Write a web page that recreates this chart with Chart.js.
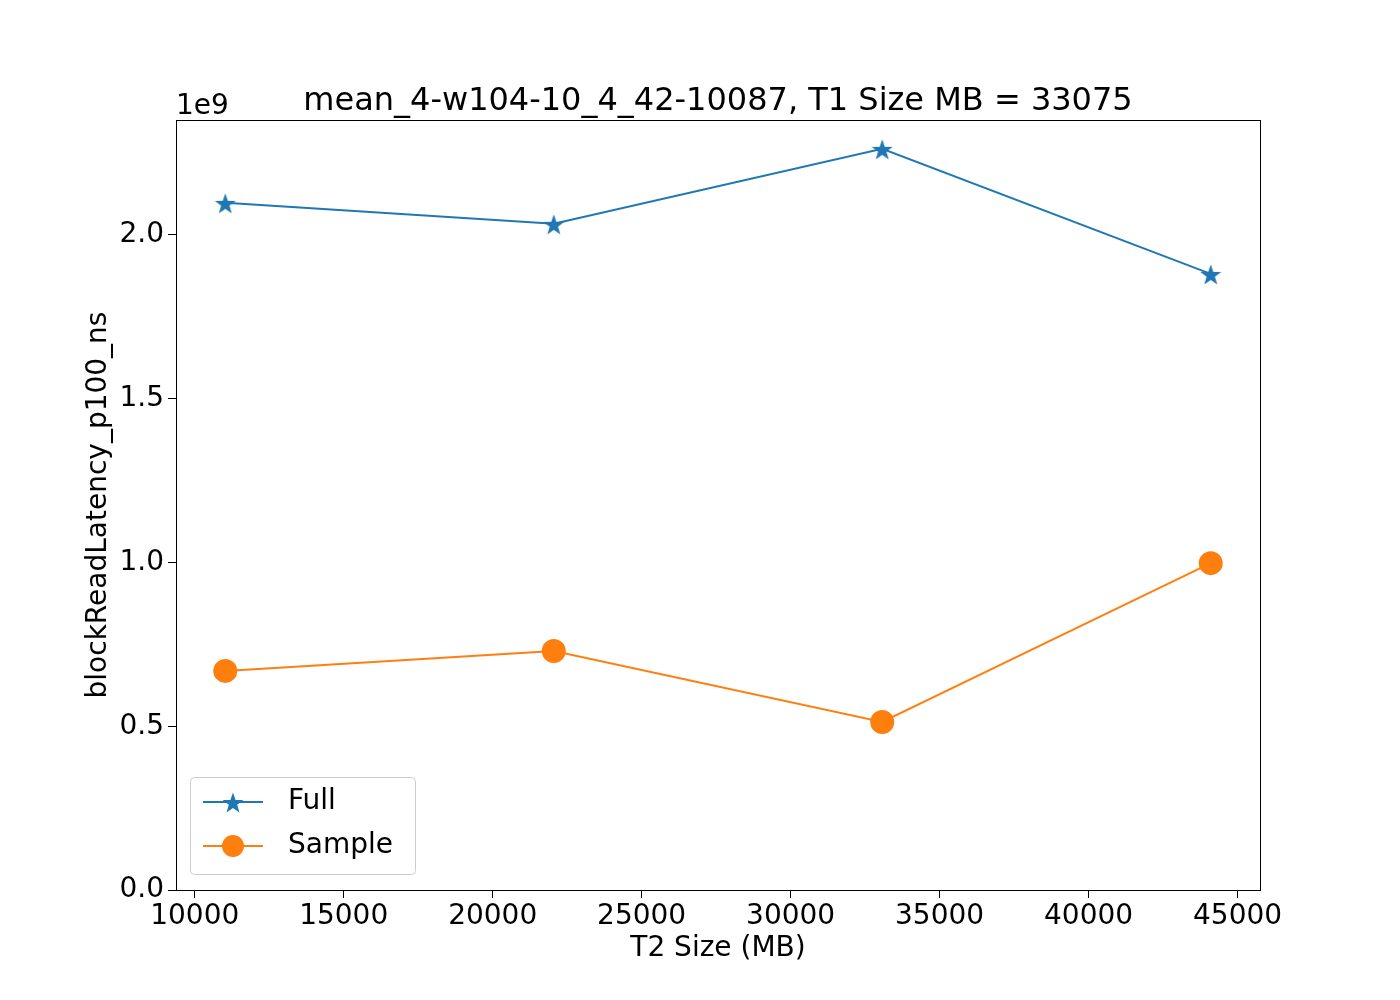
<!DOCTYPE html>
<html>
<head>
<meta charset="utf-8">
<script src="https://cdn.jsdelivr.net/npm/chart.js@4.4.1/dist/chart.umd.min.js"></script>
<style>
  body { margin: 0; background: #fff; }
  #wrap { width: 1400px; height: 1000px; }
</style>
</head>
<body>
<div id="wrap"><canvas id="c" width="1400" height="1000"></canvas></div>
<script>
const sizes = [11025, 22050, 33075, 44100];
const fullValues = [2.098, 2.034, 2.263, 1.881];
const sampleValues = [0.669, 0.730, 0.513, 0.998];
const yTicks = [0, 0.5, 1.0, 1.5, 2.0];
const chartTitle = "mean_4-w104-10_4_42-10087, T1 Size MB = 33075";
const blue = "#1f77b4";
const orange = "#ff7f0e";
const font = "DejaVu Sans";

function makeStar(r, color) {
    const c = document.createElement("canvas");
    c.width = r * 2 + 2;
    c.height = r * 2 + 2;
    const g = c.getContext("2d");
    g.fillStyle = color;
    g.beginPath();
    for (let i = 0; i < 10; i++) {
        const rr = i % 2 == 0 ? r : r * 0.4;
        const a = -Math.PI / 2 + i * Math.PI / 5;
        g.lineTo(c.width / 2 + rr * Math.cos(a), c.height / 2 + 1.5 + rr * Math.sin(a));
    }
    g.closePath();
    g.fill();
    return c;
}
const starImg = makeStar(11, blue);

const extras = {
    id: "extras",
    afterDraw(chart) {
        const ctx = chart.ctx;
        const a = chart.chartArea;
        ctx.save();
        ctx.strokeStyle = "#000";
        ctx.lineWidth = 1;
        ctx.strokeRect(a.left + 0.5, a.top + 0.5, a.right - a.left, a.bottom - a.top);
        ctx.fillStyle = "#000";
        ctx.textAlign = "center";
        ctx.textBaseline = "alphabetic";
        ctx.font = "32px " + font;
        ctx.fillText(chartTitle, 718, 110);
        ctx.font = "28px " + font;
        ctx.fillText("T2 Size (MB)", 718, 956);
        ctx.textAlign = "left";
        ctx.fillText("1e9", 176, 114);
        ctx.save();
        ctx.translate(106, 505);
        ctx.rotate(-Math.PI / 2);
        ctx.textAlign = "center";
        ctx.fillText("blockReadLatency_p100_ns", 0, 0);
        ctx.restore();
        // legend
        ctx.fillStyle = "rgba(255,255,255,0.8)";
        ctx.strokeStyle = "#ccc";
        ctx.beginPath();
        ctx.roundRect(190.5, 777.5, 225, 97, 4);
        ctx.fill();
        ctx.stroke();
        const rows = [["Full", blue, 802], ["Sample", orange, 846]];
        rows.forEach(([label, col, y]) => {
            ctx.strokeStyle = col;
            ctx.lineWidth = 2;
            ctx.beginPath();
            ctx.moveTo(203, y);
            ctx.lineTo(263, y);
            ctx.stroke();
            if (label == "Full") {
                ctx.drawImage(starImg, 233 - starImg.width / 2, y - starImg.height / 2);
            } else {
                ctx.fillStyle = col;
                ctx.beginPath();
                ctx.arc(233, y, 11, 0, Math.PI * 2);
                ctx.fill();
            }
            ctx.fillStyle = "#000";
            ctx.textBaseline = "middle";
            ctx.fillText(label, 288, y);
        });
        ctx.restore();
    }
};

new Chart(document.getElementById("c"), {
    type: "line",
    data: {
        datasets: [{
            label: "Full",
            data: sizes.map((x, i) => ({x: x, y: fullValues[i]})),
            borderColor: blue,
            backgroundColor: blue,
            borderWidth: 2,
            pointStyle: starImg,
            pointRadius: 11,
        }, {
            label: "Sample",
            data: sizes.map((x, i) => ({x: x, y: sampleValues[i]})),
            borderColor: orange,
            backgroundColor: orange,
            borderWidth: 2,
            pointStyle: "circle",
            pointRadius: 11,
        }]
    },
    options: {
        responsive: false,
        animation: false,
        layout: { padding: { top: 120, right: 140, left: 0, bottom: 0 } },
        plugins: { legend: { display: false }, tooltip: { enabled: false } },
        scales: {
            x: {
                type: "linear",
                min: 9371,
                max: 45754,
                afterBuildTicks: (s) => { s.ticks = [10000, 15000, 20000, 25000, 30000, 35000, 40000, 45000].map(v => ({value: v})); },
                afterFit: (s) => { s.height = 110; },
                ticks: { color: "#000", font: { family: font, size: 28 }, maxRotation: 0, padding: 2, callback: (v) => String(v) },
                grid: { drawOnChartArea: false, drawTicks: true, tickLength: 8, color: "#000" },
                border: { display: false },
            },
            y: {
                type: "linear",
                min: 0,
                max: 2.351,
                afterBuildTicks: (s) => { s.ticks = yTicks.map(v => ({value: v})); },
                afterFit: (s) => { s.width = 176; },
                ticks: { color: "#000", font: { family: font, size: 28 }, padding: 4, callback: (v) => v.toFixed(1) },
                grid: { drawOnChartArea: false, drawTicks: true, tickLength: 8, color: "#000" },
                border: { display: false },
            }
        }
    },
    plugins: [extras]
});
</script>
</body>
</html>
